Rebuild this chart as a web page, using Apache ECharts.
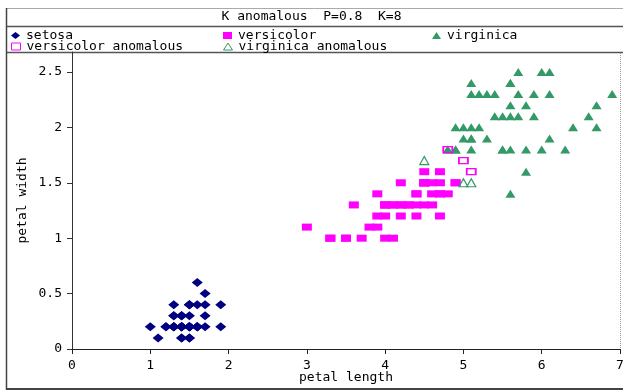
<!DOCTYPE html>
<html>
<head>
<meta charset="utf-8">
<script src="https://cdn.jsdelivr.net/npm/echarts@6/dist/echarts.min.js"></script>
<style>
html,body{margin:0;padding:0;background:#fff;}
#c{width:623px;height:392px;}
</style>
</head>
<body>
<div id="c"></div>
<script>
// Iris petal measurements [petal length, petal width]
var setosa = [
  [1.4,0.2],[1.4,0.2],[1.3,0.2],[1.5,0.2],[1.4,0.2],[1.7,0.4],[1.4,0.3],[1.5,0.2],[1.4,0.2],[1.5,0.1],
  [1.5,0.2],[1.6,0.2],[1.4,0.1],[1.1,0.1],[1.2,0.2],[1.5,0.4],[1.3,0.4],[1.4,0.3],[1.7,0.3],[1.5,0.3],
  [1.7,0.2],[1.5,0.4],[1.0,0.2],[1.7,0.5],[1.9,0.2],[1.6,0.2],[1.6,0.4],[1.5,0.2],[1.4,0.2],[1.6,0.2],
  [1.6,0.2],[1.5,0.4],[1.5,0.1],[1.4,0.2],[1.5,0.2],[1.2,0.2],[1.3,0.2],[1.4,0.1],[1.3,0.2],[1.5,0.2],
  [1.3,0.3],[1.3,0.3],[1.3,0.2],[1.6,0.6],[1.9,0.4],[1.4,0.3],[1.6,0.2],[1.4,0.2],[1.5,0.2],[1.4,0.2]
];
var versicolor = [
  [4.7,1.4],[4.5,1.5],[4.9,1.5],[4.0,1.3],[4.6,1.5],[4.5,1.3],[4.7,1.6],[3.3,1.0],[4.6,1.3],[3.9,1.4],
  [3.5,1.0],[4.2,1.5],[4.0,1.0],[4.7,1.4],[3.6,1.3],[4.4,1.4],[4.5,1.5],[4.1,1.0],[4.5,1.5],[3.9,1.1],
  [4.0,1.3],[4.9,1.5],[4.7,1.2],[4.3,1.3],[4.4,1.4],[4.8,1.4],[4.5,1.5],[3.5,1.0],[3.8,1.1],[3.7,1.0],
  [3.9,1.2],[4.5,1.5],[4.5,1.6],[4.7,1.5],[4.4,1.3],[4.1,1.3],[4.0,1.3],[4.4,1.2],[4.6,1.4],[4.0,1.2],
  [3.3,1.0],[4.2,1.3],[4.2,1.2],[4.2,1.3],[4.3,1.3],[3.0,1.1],[4.1,1.3]
];
var virginica = [
  [6.0,2.5],[5.1,1.9],[5.9,2.1],[5.6,1.8],[5.8,2.2],[6.6,2.1],[6.3,1.8],[5.8,1.8],[6.1,2.5],[5.1,2.0],
  [5.3,1.9],[5.5,2.1],[5.0,2.0],[5.1,2.4],[5.3,2.3],[5.5,1.8],[6.7,2.2],[6.9,2.3],[5.7,2.3],[4.9,2.0],
  [6.7,2.0],[4.9,1.8],[5.7,2.1],[6.0,1.8],[4.8,1.8],[4.9,1.8],[5.6,2.1],[5.8,1.6],[6.1,1.9],[6.4,2.0],
  [5.6,2.2],[5.6,1.4],[6.1,2.3],[5.6,2.4],[5.5,1.8],[4.8,1.8],[5.4,2.1],[5.6,2.4],[5.1,2.3],[5.1,1.9],
  [5.9,2.3],[5.7,2.5],[5.2,2.3],[5.0,1.9],[5.2,2.0],[5.4,2.3],[5.1,1.8]
];
var versicolorAnomalous = [[4.8,1.8],[5.0,1.7],[5.1,1.6]];
var virginicaAnomalous = [[4.5,1.7],[5.0,1.5],[5.1,1.5]];

var seriesNames = ['setosa','versicolor','virginica','versicolor anomalous','virginica anomalous'];
var yTicks = [0,0.5,1,1.5,2,2.5];
var xTicks = [0,1,2,3,4,5,6,7];
var titleText = 'K anomalous  P=0.8  K=8';

var FONT = 'DejaVu Sans Mono';
var FS = 13;
var NAVY = '#000080', MAGENTA = '#ff00ff', GREEN = '#339966';

function legendAt(name, left, top) {
  return {
    data: [name], left: left, top: top, orient: 'horizontal',
    padding: 0, itemWidth: 9, itemHeight: 7, itemGap: 4,
    selectedMode: false,
    itemStyle: {borderWidth: 1},
    textStyle: {fontFamily: FONT, fontSize: FS, color: '#000', padding: [0,0,0,1]}
  };
}

var chart = echarts.init(document.getElementById('c'));
chart.setOption({
  animation: false,
  backgroundColor: '#fff',
  title: {
    text: titleText, left: 'center', top: 10, padding: 0,
    textStyle: {fontFamily: FONT, fontSize: FS, fontWeight: 'normal', color: '#000'}
  },
  legend: [
    legendAt(seriesNames[0], 11, 29),
    legendAt(seriesNames[1], 223, 29),
    legendAt(seriesNames[2], 432, 29),
    legendAt(seriesNames[3], 11, 40),
    legendAt(seriesNames[4], 223, 40)
  ],
  grid: {left: 72, right: 3, top: 52, bottom: 43, containLabel: false, outerBoundsMode: 'none'},
  xAxis: {
    type: 'value', min: 0, max: 7, interval: 1,
    name: 'petal length', nameLocation: 'middle', nameGap: 22, nameMoveOverlap: false,
    nameTextStyle: {fontFamily: FONT, fontSize: FS, color: '#000'},
    axisLine: {show: true, lineStyle: {color: '#222', width: 1}},
    axisTick: {show: true, length: 5, inside: false, lineStyle: {color: '#222'}, customValues: xTicks},
    axisLabel: {fontFamily: FONT, fontSize: FS, color: '#000', margin: 10, customValues: xTicks},
    splitLine: {show: false}
  },
  yAxis: {
    type: 'value', min: 0, max: 2.68, interval: 0.5,
    name: 'petal width', nameLocation: 'middle', nameGap: 43, nameRotate: 90, nameMoveOverlap: false,
    nameTextStyle: {fontFamily: FONT, fontSize: FS, color: '#000'},
    axisLine: {show: true, lineStyle: {color: '#333', width: 1}},
    axisTick: {show: true, length: 5, inside: false, lineStyle: {color: '#333'}, customValues: yTicks},
    axisLabel: {fontFamily: FONT, fontSize: FS, color: '#000', margin: 10, customValues: yTicks},
    splitLine: {show: false}
  },
  graphic: [
    {type: 'line', shape: {x1: 6, y1: 8.5, x2: 623, y2: 8.5}, style: {stroke: '#aaa', lineWidth: 1}, silent: true},
    {type: 'line', shape: {x1: 6, y1: 26.5, x2: 623, y2: 26.5}, style: {stroke: '#555', lineWidth: 1.5}, silent: true},
    {type: 'line', shape: {x1: 6, y1: 52.5, x2: 623, y2: 52.5}, style: {stroke: '#555', lineWidth: 1.5}, silent: true},
    {type: 'line', shape: {x1: 6.5, y1: 8, x2: 6.5, y2: 390}, style: {stroke: '#444', lineWidth: 1.5}, silent: true},
    {type: 'line', shape: {x1: 6, y1: 389, x2: 623, y2: 389}, style: {stroke: '#444', lineWidth: 2}, silent: true},
    {type: 'line', shape: {x1: 620.5, y1: 53, x2: 620.5, y2: 349}, style: {stroke: '#999', lineWidth: 1, lineDash: [1,1]}, silent: true}
  ],
  series: [
    {name: seriesNames[0], type: 'scatter', data: setosa, symbol: 'diamond', symbolSize: [11,9],
     itemStyle: {color: NAVY, opacity: 1}, z: 3},
    {name: seriesNames[1], type: 'scatter', data: versicolor, symbol: 'rect', symbolSize: [10,7],
     itemStyle: {color: MAGENTA, opacity: 1}, z: 3},
    {name: seriesNames[2], type: 'scatter', data: virginica, symbol: 'triangle', symbolSize: [10,8],
     itemStyle: {color: GREEN, opacity: 1}, z: 3},
    {name: seriesNames[3], type: 'scatter', data: versicolorAnomalous, symbol: 'rect', symbolSize: [9,6],
     itemStyle: {color: 'rgba(255,255,255,0)', borderColor: MAGENTA, borderWidth: 1.5, opacity: 1}, z: 4},
    {name: seriesNames[4], type: 'scatter', data: virginicaAnomalous, symbol: 'triangle', symbolSize: [9,8],
     itemStyle: {color: 'rgba(255,255,255,0)', borderColor: GREEN, borderWidth: 1.2, opacity: 1}, z: 4}
  ]
});
</script>
</body>
</html>
